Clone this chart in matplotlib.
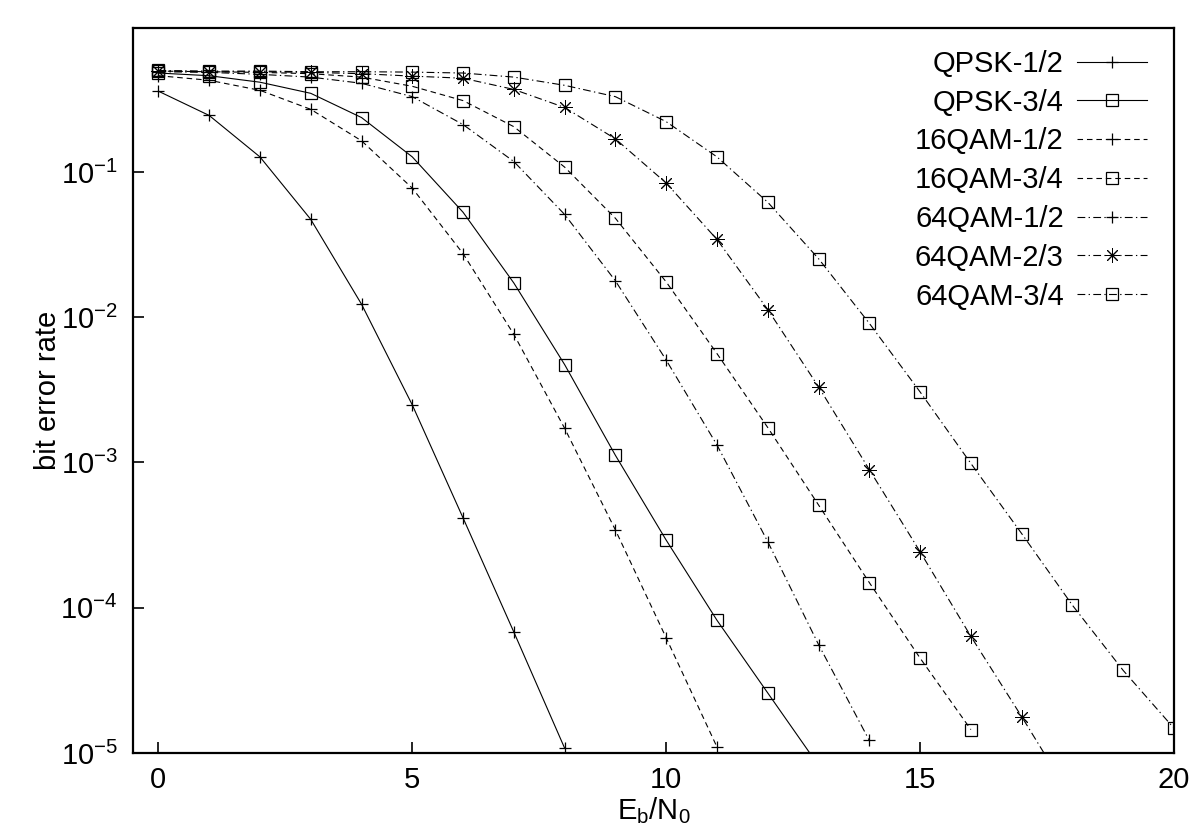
import numpy as np
import matplotlib
matplotlib.use("Agg")
import matplotlib.pyplot as plt
from matplotlib.ticker import NullLocator, FixedLocator

plt.rcParams['font.family'] = ['Liberation Sans', 'DejaVu Sans']
plt.rcParams['mathtext.fontset'] = 'custom'
plt.rcParams['mathtext.rm'] = 'Liberation Sans'
plt.rcParams['mathtext.it'] = 'Liberation Sans:italic'
plt.rcParams['mathtext.default'] = 'regular'

# Eb/N0 (dB) and bit error rate per scheme
snr_qpsk_12 = [0, 1, 2, 3, 4, 5, 6, 7, 8]
ber_qpsk_12 = [0.36, 0.245, 0.127, 0.0472, 0.0123, 0.00249, 4.15e-4, 6.8e-5, 1.08e-5]

snr_qpsk_34 = [0, 1, 2, 3, 4, 5, 6, 7, 8, 9, 10, 11, 12, 13]
ber_qpsk_34 = [0.48, 0.46, 0.415, 0.348, 0.237, 0.127, 0.0528, 0.0172, 0.00472,
               0.00112, 2.92e-4, 8.2e-5, 2.59e-5, 8.2e-6]

snr_16qam_12 = [0, 1, 2, 3, 4, 5, 6, 7, 8, 9, 10, 11]
ber_16qam_12 = [0.46, 0.428, 0.365, 0.27, 0.164, 0.0774, 0.0274, 0.00762, 0.00172,
                3.43e-4, 6.2e-5, 1.1e-5]

snr_16qam_34 = list(range(0, 17))
ber_16qam_34 = [0.495, 0.49, 0.485, 0.475, 0.45, 0.389, 0.31, 0.205, 0.108, 0.048,
                0.0175, 0.00562, 0.00174, 5.1e-4, 1.49e-4, 4.5e-5, 1.45e-5]

snr_64qam_12 = list(range(0, 15))
ber_64qam_12 = [0.49, 0.485, 0.47, 0.45, 0.408, 0.33, 0.212, 0.118, 0.051, 0.0178,
                0.00507, 0.00132, 2.85e-4, 5.58e-5, 1.22e-5]

snr_64qam_23 = list(range(0, 19))
ber_64qam_23 = [0.495, 0.49, 0.49, 0.485, 0.475, 0.457, 0.442, 0.37, 0.278, 0.169,
                0.0839, 0.0343, 0.0113, 0.00332, 8.93e-4, 2.43e-4, 6.35e-5, 1.78e-5, 4.8e-6]

snr_64qam_34 = list(range(0, 21))
ber_64qam_34 = [0.5, 0.495, 0.495, 0.49, 0.49, 0.487, 0.48, 0.45, 0.395, 0.33, 0.222,
                0.127, 0.0619, 0.0253, 0.00908, 0.00306, 9.85e-4, 3.24e-4, 1.04e-4,
                3.7e-5, 1.48e-5]

solid = (None, None)
dashed = (5, 3.5)
dashdot = (7, 3, 1.2, 3)
star = (8, 2, 0)

series = [
    ("QPSK-1/2", snr_qpsk_12, ber_qpsk_12, solid, "+"),
    ("QPSK-3/4", snr_qpsk_34, ber_qpsk_34, solid, "s"),
    ("16QAM-1/2", snr_16qam_12, ber_16qam_12, dashed, "+"),
    ("16QAM-3/4", snr_16qam_34, ber_16qam_34, dashed, "s"),
    ("64QAM-1/2", snr_64qam_12, ber_64qam_12, dashdot, "+"),
    ("64QAM-2/3", snr_64qam_23, ber_64qam_23, dashdot, star),
    ("64QAM-3/4", snr_64qam_34, ber_64qam_34, dashdot, "s"),
]
msize = {"+": 8.5, "s": 8.5}

fig = plt.figure(figsize=(12, 8.4), dpi=100)
ax = fig.add_axes([133 / 1200, 1 - 753 / 840, 1041 / 1200, 725 / 840])

for label, x, y, dash, mk in series:
    line, = ax.plot(x, y, color="black", linewidth=0.8, marker=mk,
                    markersize=msize.get(mk, 10.5),
                    markerfacecolor="none", markeredgecolor="black",
                    markeredgewidth=0.9 if mk != star else 0.7, label=label)
    if dash[0] is not None:
        line.set_dashes(dash)

ax.set_yscale("log")
ax.set_xlim(-0.5, 20)
ax.set_ylim(1e-5, 0.98)
ax.xaxis.set_major_locator(FixedLocator([0, 5, 10, 15, 20]))
ax.yaxis.set_major_locator(FixedLocator([1e-5, 1e-4, 1e-3, 1e-2, 1e-1]))
ax.yaxis.set_minor_locator(NullLocator())
ax.xaxis.set_minor_locator(NullLocator())

ax.tick_params(direction="in", length=8, width=1.2, labelsize=21, pad=9,
               top=False, right=False)
ax.tick_params(axis="y", pad=11)
for sp in ax.spines.values():
    sp.set_linewidth(1.6)

ax.set_xlabel(r"E$_\mathrm{b}$/N$_\mathrm{0}$", fontsize=21)
ax.set_ylabel("bit error rate", fontsize=21)
ax.xaxis.set_label_coords(0.5, -0.058)
ax.yaxis.set_label_coords(-0.068, 0.5)

ax.legend(loc="upper right", bbox_to_anchor=(0.974, 0.970), frameon=False,
          markerfirst=False, fontsize=21, handlelength=2.4, handletextpad=0.45,
          labelspacing=0.37, borderpad=0, borderaxespad=0)

fig.savefig("out.png", dpi=100)
